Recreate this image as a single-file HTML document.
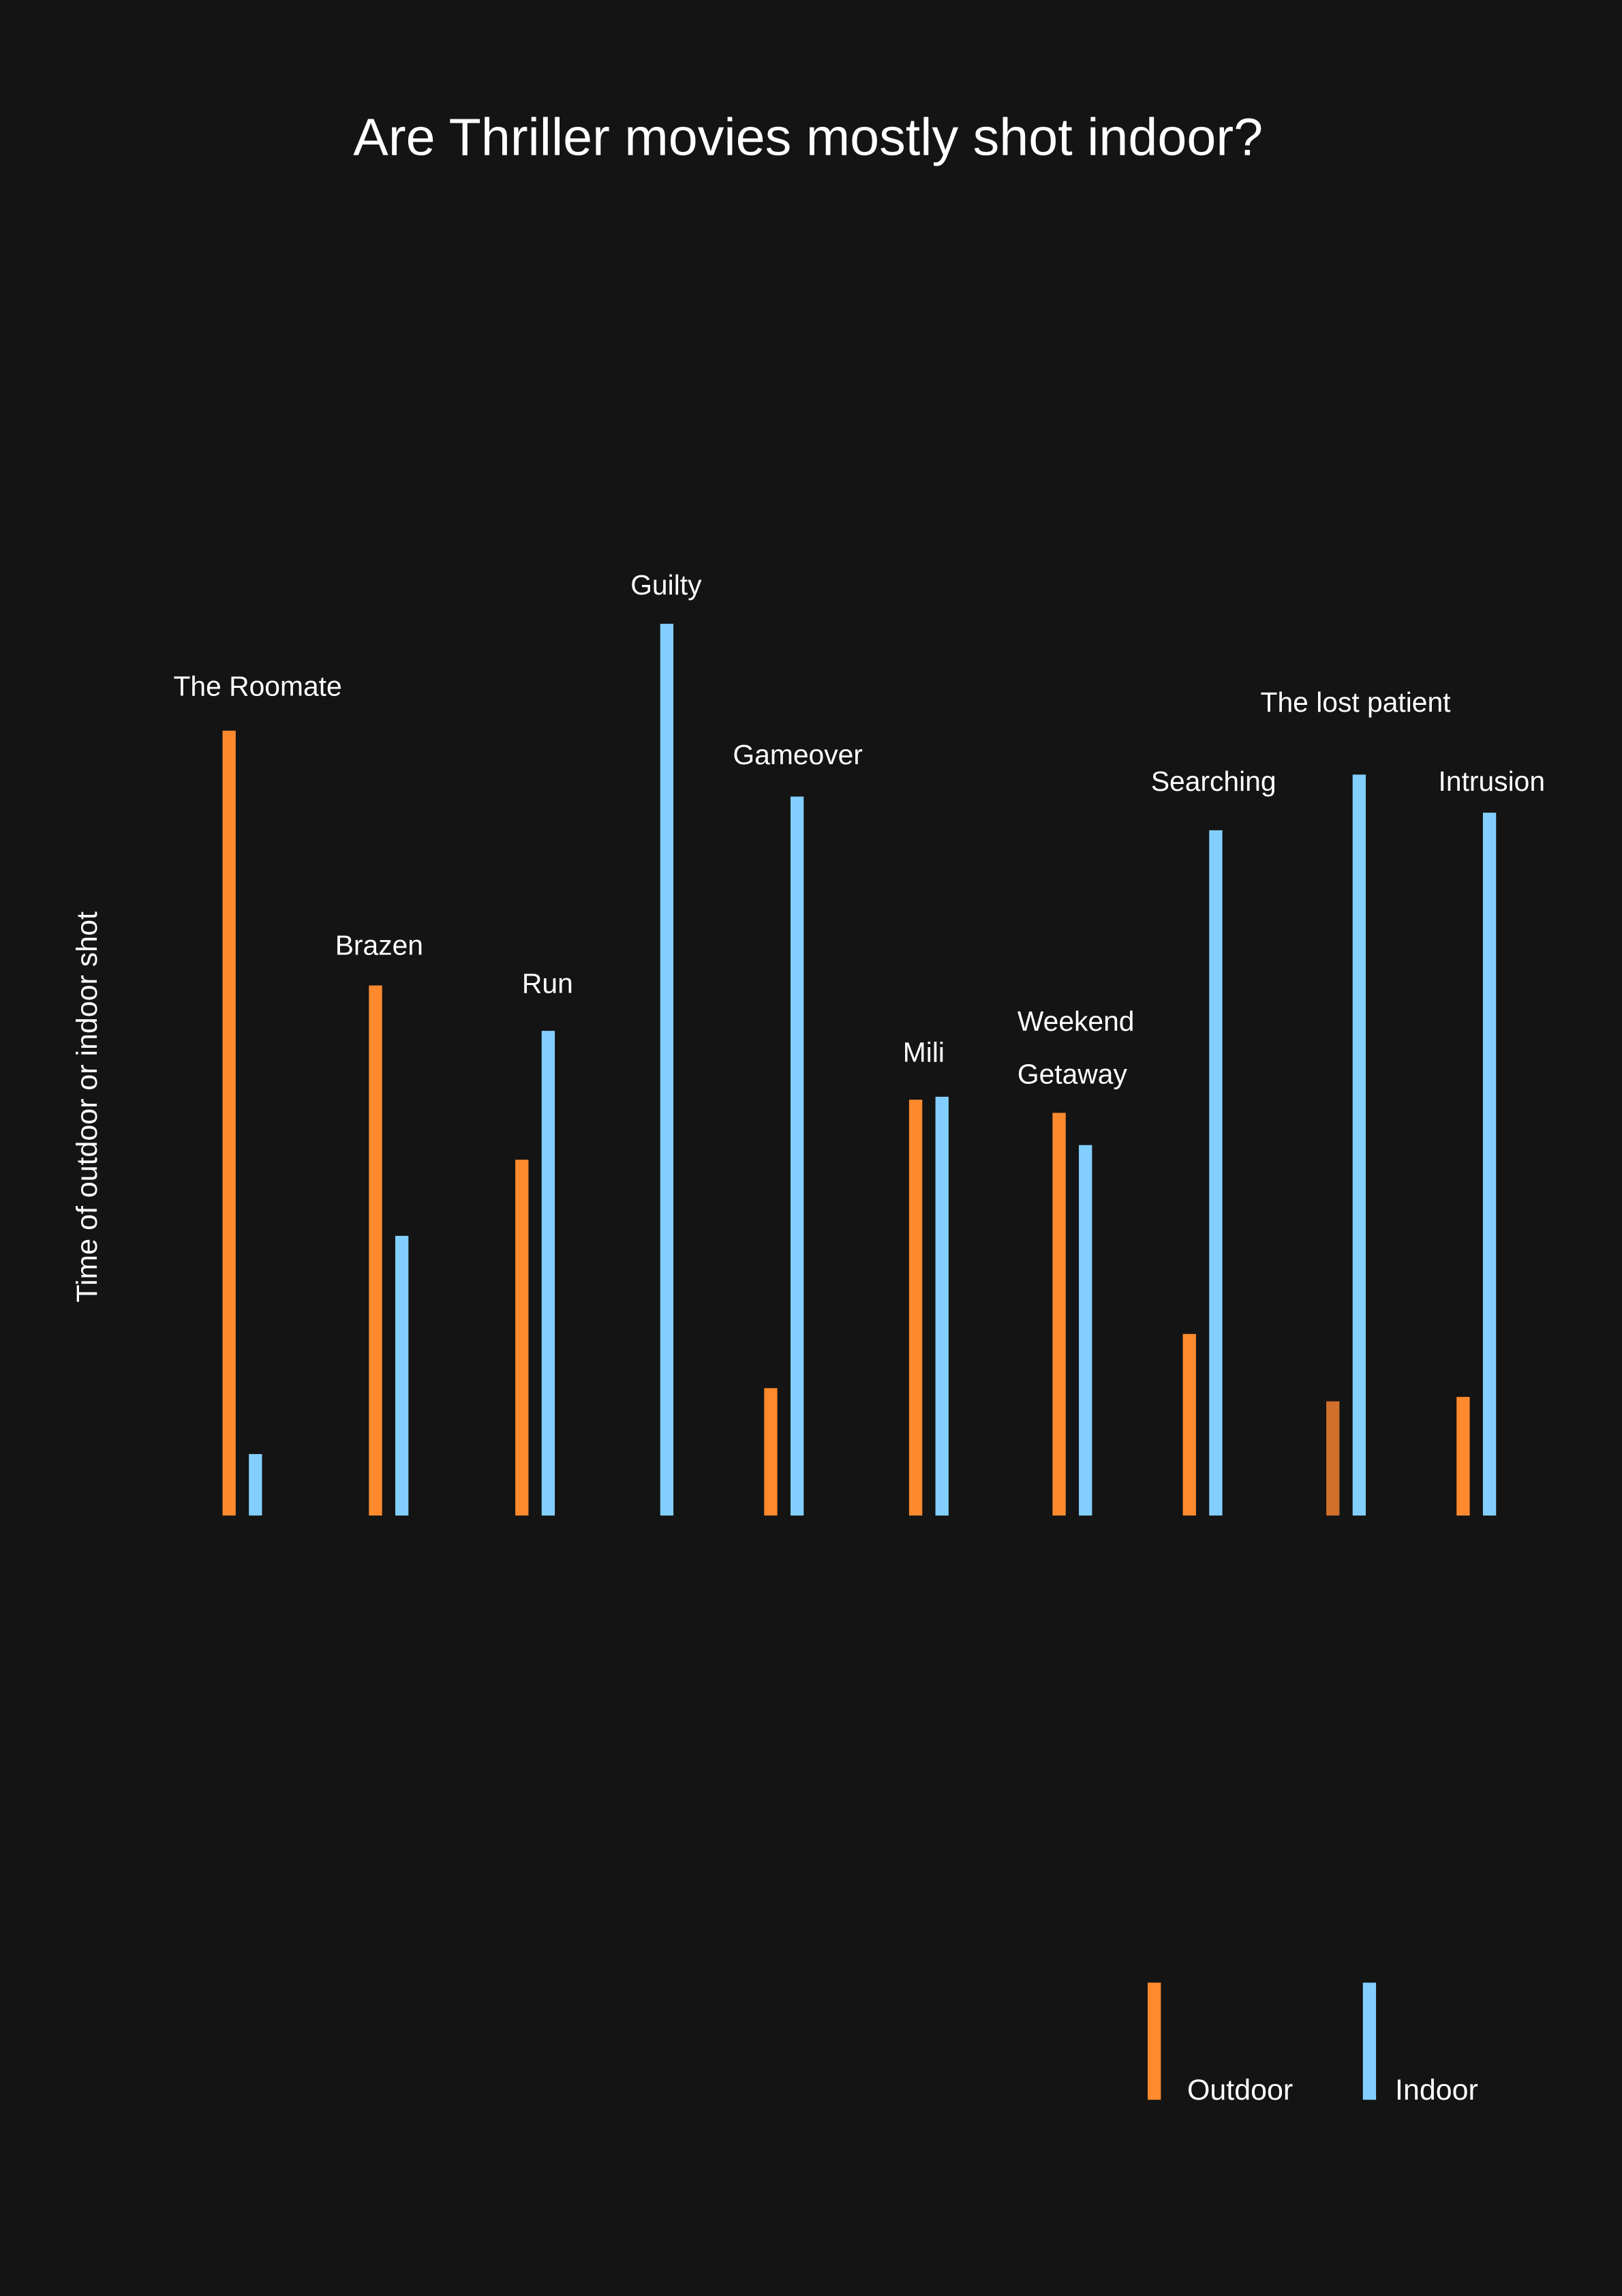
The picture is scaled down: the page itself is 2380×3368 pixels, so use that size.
<!DOCTYPE html>
<html><head><meta charset="utf-8"><style>
html,body{margin:0;padding:0;background:#141414;}
svg{display:block;}
text{font-family:"Liberation Sans",sans-serif;fill:#ffffff;}
</style></head><body>
<svg id="chart" width="2380" height="3368" viewBox="0 0 1108 1568" xmlns="http://www.w3.org/2000/svg">
<rect width="1108" height="1568" fill="#141414"/>
<text x="552" y="106" font-size="36" text-anchor="middle">Are Thriller movies mostly shot indoor?</text>
<text transform="translate(66,756) rotate(-90)" font-size="20" text-anchor="middle">Time of outdoor or indoor shot</text>
<g id="bars"></g>
<g id="labels"></g>
<g>
<rect x="784" y="1354" width="9" height="80" fill="#ff8a2e"/>
<text x="811" y="1434" font-size="20">Outdoor</text>
<rect x="931" y="1354" width="9" height="80" fill="#82cfff"/>
<text x="953" y="1434" font-size="20">Indoor</text>
</g>
</svg>
<script>
const categories = ["The Roomate","Brazen","Run","Guilty","Gameover","Mili","Weekend Getaway","Searching","The lost patient","Intrusion"];
const outdoor = [536,362,243,0,87,284,275,124,78,81];
const indoor = [42,191,331,609,491,286,253,468,506,480];

// layout (not data): irregular group slot positions and label placement
const slotX = [152,252,352,433,522,621,719,808,906,995];
const labelDX = [10.5,-6.5,8.5,8.5,9.5,-3.5,0,7.5,6.5,10.5];
const labelLift = [31,28,33,27,29,31,63,34,50,22];

const NS="http://www.w3.org/2000/svg";
const baseY=1035, bw=9, gap=18;
function xScale(i){return slotX[i];}
function yScale(v){return baseY-v;}
const bars=document.getElementById('bars');
const labels=document.getElementById('labels');
categories.forEach((c,i)=>{
  const slug=c.toLowerCase().replace(/\s+/g,'-');
  if(outdoor[i]>0){
    const r=document.createElementNS(NS,'rect');
    r.setAttribute('x',xScale(i));r.setAttribute('y',yScale(outdoor[i]));
    r.setAttribute('width',bw);r.setAttribute('height',outdoor[i]);
    r.setAttribute('fill',c==="The lost patient"?'#d0702c':'#ff8a2e');
    
    
    bars.appendChild(r);
  }
  const b=document.createElementNS(NS,'rect');
  b.setAttribute('x',xScale(i)+gap);b.setAttribute('y',yScale(indoor[i]));
  b.setAttribute('width',bw);b.setAttribute('height',indoor[i]);
  b.setAttribute('fill','#82cfff');
  
  
  bars.appendChild(b);
  const top=Math.max(outdoor[i],indoor[i]);
  const cx=xScale(i)+gap/2+bw/2+labelDX[i];
  const ly=yScale(top)-labelLift[i]+7;
  if(c==="Weekend Getaway"){
    ["Weekend","Getaway"].forEach((w,k)=>{
      const t=document.createElementNS(NS,'text');
      t.setAttribute('x',695);t.setAttribute('y',ly+k*36);
      t.setAttribute('font-size','19');
      t.textContent=w;
      
      
      labels.appendChild(t);
    });
  } else {
    const t=document.createElementNS(NS,'text');
    t.setAttribute('x',cx);t.setAttribute('y',ly);
    t.setAttribute('font-size','19');t.setAttribute('text-anchor','middle');
    t.textContent=c;
    
    
    labels.appendChild(t);
  }
});
</script>
</body></html>
